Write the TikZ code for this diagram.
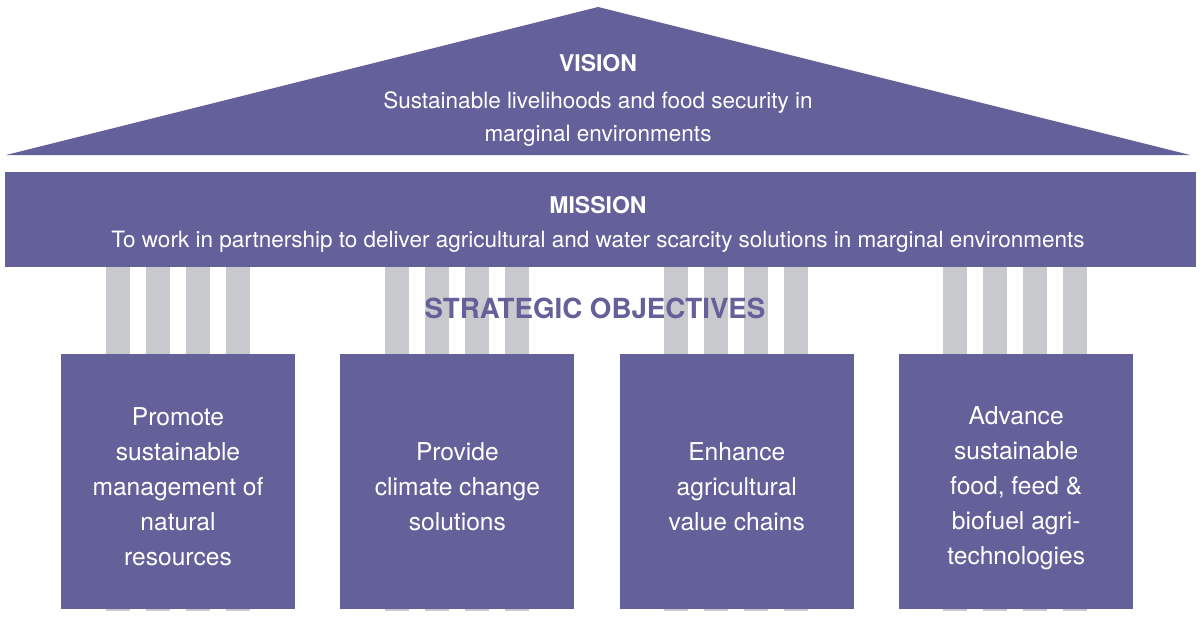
\documentclass[tikz,border=0pt]{standalone}
\usepackage{fontspec}
\setmainfont{TeX Gyre Heros}
\usetikzlibrary{positioning}
\definecolor{icbaviolet}{HTML}{64609A}
\definecolor{pillargray}{HTML}{C8C9CC}
\tikzstyle{roof} = [fill=icbaviolet]
\tikzstyle{pillar} = [fill=pillargray]
\tikzstyle{headline} = [text=white, font=\fontsize{23}{27}\selectfont\bfseries, inner sep=0pt]
\tikzstyle{statement} = [text=white, align=center, font=\fontsize{22.5}{33}\selectfont, inner sep=0pt]
\tikzstyle{beam} = [rectangle, fill=icbaviolet, minimum width=1191pt, minimum height=95pt, inner sep=0pt]
\tikzstyle{objective} = [rectangle, fill=icbaviolet, minimum width=234pt, minimum height=255pt, inner sep=0pt]
\tikzstyle{objtext} = [text=white, align=center, inner sep=0pt, font=\fontsize{24.6}{35}\selectfont]

\begin{document}
\begin{tikzpicture}[x=1pt, y=-1pt, node distance=45pt]
	\useasboundingbox (0,0) rectangle (1203,618);

	% Pillars
	\foreach \g in {0,...,3}
		\foreach \p in {0,...,3}
			\fill[pillar] (106+279*\g+40*\p,267) rectangle ++(24,344);

	% Roof
	\fill[roof] (6,155) -- (598,7) -- (1190,155) -- cycle;
	\node (vision) [headline] at (598,63) {VISION};
	\node (vision_text) [statement] at (598,119) {Sustainable livelihoods and food security in\\marginal environments};

	% Mission
	\node (mission_bar) [beam] at (600.5,219.5) {};
	\node (mission) [headline] at (598,205) {MISSION};
	\node (mission_text) [statement] at (598,242) {To work in partnership to deliver agricultural and water scarcity solutions in marginal environments};

	% Objectives
	\node (objectives) [text=icbaviolet, font=\fontsize{27.7}{32}\selectfont\bfseries, inner sep=0pt] at (595,308) {STRATEGIC OBJECTIVES};
	\node (obj1) [objective] at (178,481.5) {};
	\node (obj2) [objective, right=of obj1] {};
	\node (obj3) [objective, right=of obj2] {};
	\node (obj4) [objective, right=of obj3] {};

	% Texts
	\node (obj1_text) [objtext] at ([yshift=-5pt]obj1.center) {Promote\\sustainable\\management of\\natural\\resources};
	\node (obj2_text) [objtext] at ([yshift=-5pt]obj2.center) {Provide\\climate change\\solutions};
	\node (obj3_text) [objtext] at ([yshift=-5pt]obj3.center) {Enhance\\agricultural\\value chains};
	\node (obj4_text) [objtext] at ([yshift=-7pt]obj4.center) {Advance\\sustainable\\food, feed \&\\biofuel agri-\\technologies};

\end{tikzpicture}
\end{document}
